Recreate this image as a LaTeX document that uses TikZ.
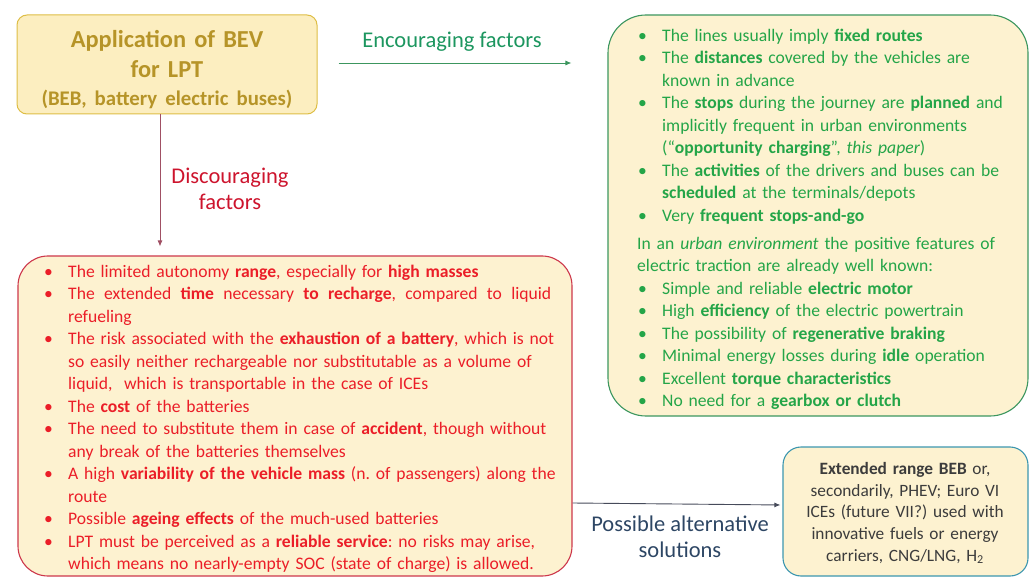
\documentclass[tikz,border=0pt]{standalone}
\usepackage{fontspec}
\setmainfont{Carlito}
\usepackage{tikz}
\usetikzlibrary{arrows.meta}

\definecolor{bevfill}{RGB}{252,238,192}
\definecolor{bevline}{RGB}{222,190,70}
\definecolor{bevtext}{RGB}{182,148,40}
\definecolor{boxfill}{RGB}{253,242,208}
\definecolor{posline}{RGB}{60,150,95}
\definecolor{postext}{RGB}{36,165,72}
\definecolor{enctext}{RGB}{28,150,95}
\definecolor{negline}{RGB}{205,55,75}
\definecolor{negtext}{RGB}{235,30,40}
\definecolor{disctext}{RGB}{205,20,45}
\definecolor{discline}{RGB}{160,80,100}
\definecolor{altline}{RGB}{60,150,175}
\definecolor{alttext}{RGB}{60,60,60}
\definecolor{altlbl}{RGB}{45,70,100}
\definecolor{altarrow}{RGB}{70,75,90}

\newcommand{\bitem}{\par\noindent\hangindent=25pt\hangafter=1\strut\makebox[25pt][l]{\hspace{1pt}\textbullet}\ignorespaces}

\begin{document}
\begin{tikzpicture}[x=1pt,y=-1pt]
\tikzstyle{every node}+=[inner sep=0pt]
\tikzset{frame/.style={draw, rounded corners=#1, line width=1.1pt, fill=boxfill},
  listtext/.style={anchor=north west, align=left, font=\fontsize{17.6}{22.5}\selectfont\frenchspacing},
  lbl/.style={align=center, font=\fontsize{22.5}{26.5}\selectfont},
  arr/.style={line width=0.9pt, -{Latex[length=6pt,width=5pt]}}}
\useasboundingbox (0,0) rectangle (1030,577);

\node[frame=10pt, draw=bevline, fill=bevfill, line width=1pt, minimum width=300pt, minimum height=99pt] (bev) at (167,64.5) {};
\node[frame=38pt, draw=posline, minimum width=420pt, minimum height=401pt] (pos) at (818,215.5) {};
\node[frame=30pt, draw=negline, minimum width=554pt, minimum height=320pt] (neg) at (295,416) {};
\node[frame=18pt, draw=altline, minimum width=245pt, minimum height=129pt] (alt) at (905.5,511.5) {};

\node[align=center, text width=300pt, text=bevtext, font=\fontsize{24.4}{30}\selectfont\bfseries] (bevtxt) at (167,70)
  {Application of BEV\\for LPT\\[-2pt]{\fontsize{20.8}{30}\selectfont (BEB, battery electric buses)}};

\node[listtext, text width=400pt, text=postext] (postxt) at (637,18.5) {%
\bitem The lines usually imply \textbf{fixed routes}
\bitem The \textbf{distances} covered by the vehicles are\newline known in advance
\bitem The \textbf{stops} during the journey are \textbf{planned} and\newline implicitly frequent in urban environments\newline (“\textbf{opportunity charging}”, \textit{this paper})
\bitem The \textbf{activities} of the drivers and buses can be\newline \textbf{scheduled} at the terminals/depots
\bitem Very \textbf{frequent stops-and-go}
\par\vspace{5.5pt}\noindent\strut In an \textit{urban environment} the positive features of\newline electric traction are already well known:
\bitem Simple and reliable \textbf{electric motor}
\bitem High \textbf{efficiency} of the electric powertrain
\bitem The possibility of \textbf{regenerative braking}
\bitem Minimal energy losses during \textbf{idle} operation
\bitem Excellent \textbf{torque characteristics}
\bitem No need for a \textbf{gearbox or clutch}\par};

\node[listtext, text width=530pt, text=negtext] (negtxt) at (43,254.5) {%
\bitem The limited autonomy \textbf{range}, especially for \textbf{high masses}
\bitem \makebox[483pt][s]{\spaceskip=0pt The extended \textbf{time} necessary \textbf{to recharge}, compared to liquid}\newline refueling
\bitem The risk associated with the \textbf{exhaustion of a battery}, which is not\newline so easily neither rechargeable nor substitutable as a volume of\newline liquid,\ \ which is transportable in the case of ICEs
\bitem The \textbf{cost} of the batteries
\bitem The need to substitute them in case of \textbf{accident}, though without\newline any break of the batteries themselves
\bitem A high \textbf{variability of the vehicle mass} (n. of passengers) along the\newline route
\bitem Possible \textbf{ageing effects} of the much-used batteries
\bitem LPT must be perceived as a \textbf{reliable service}: no risks may arise,\newline which means no nearly-empty SOC (state of charge) is allowed.\par};

\node[align=center, text width=240pt, text=alttext, font=\fontsize{17.3}{21.75}\selectfont] (alttxt) at (905,513)
  {\textbf{Extended range BEB} or,\\secondarily, PHEV; Euro VI\\ICEs (future VII?) used with\\innovative fuels or energy\\carriers, CNG/LNG, H\textsubscript{2}};

\node[lbl, text=enctext] (enclbl) at (452,42) {Encouraging factors};
\node[lbl, text=disctext] (disclbl) at (230,189) {Discouraging\\factors};
\node[lbl, text=altlbl] (altlbl) at (680,537) {Possible alternative\\solutions};

\draw[arr, draw=posline, shorten <=21pt, shorten >=36pt] ([yshift=1.5pt]bev.east) -- ([yshift=1.5pt]bev.east -| pos.west);
\draw[arr, draw=discline, shorten >=9pt] ([xshift=-7pt]bev.south) -- ([xshift=-7pt]bev.south |- neg.north);
\draw[arr, draw=altarrow, shorten >=2pt] ([yshift=-87pt]neg.east) -- ([yshift=6.5pt]alt.west);
\end{tikzpicture}
\end{document}
